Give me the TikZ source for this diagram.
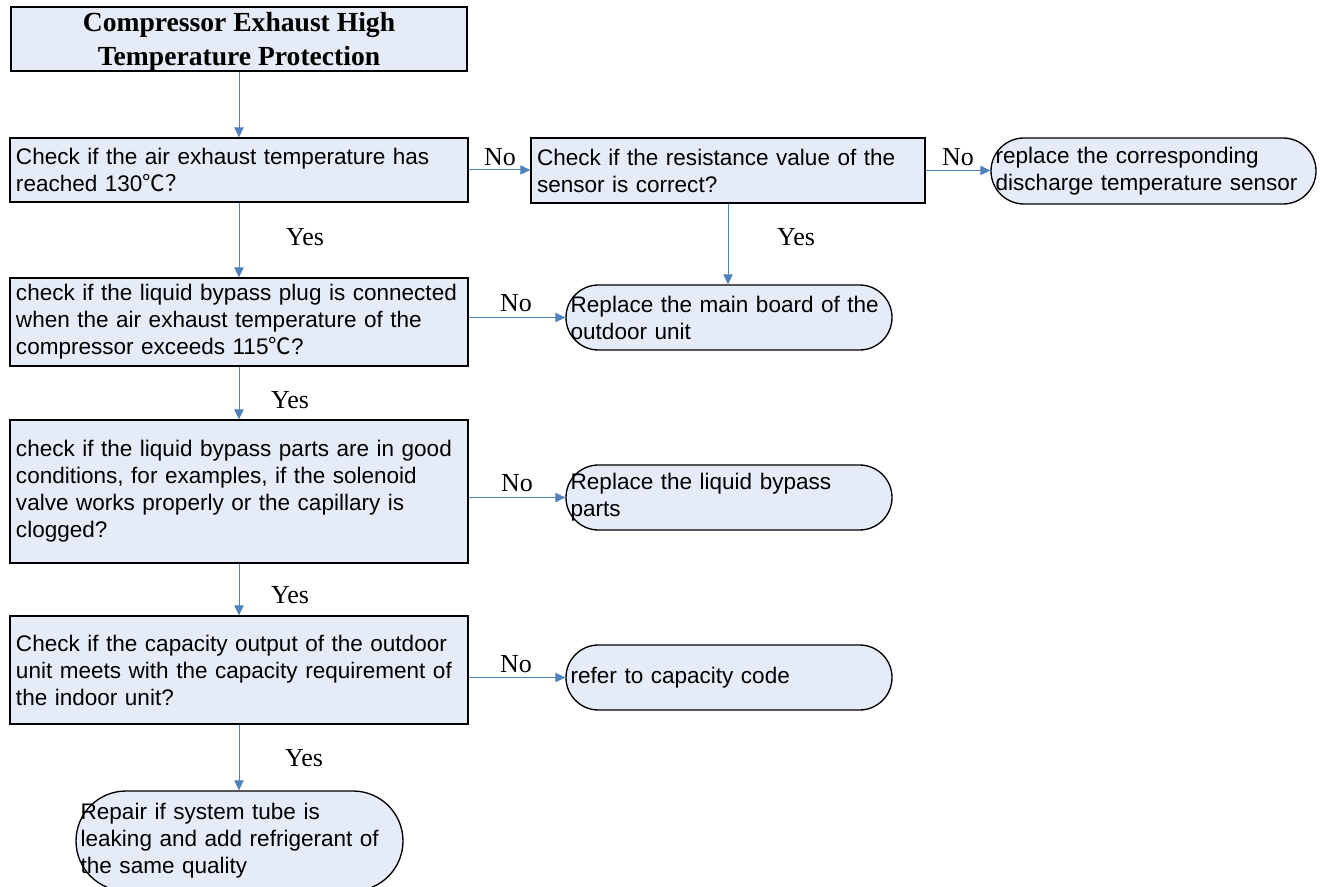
\documentclass[tikz,border=0pt]{standalone}
\usepackage{fontspec}
\setmainfont{Liberation Serif}
\newfontfamily\arialf{Liberation Sans}
\newfontfamily\cjkf{Noto Sans CJK SC}
\usetikzlibrary{arrows.meta}
\definecolor{boxfill}{RGB}{230,236,247}
\definecolor{lineblue}{RGB}{79,129,189}
\hyphenpenalty=10000
\exhyphenpenalty=10000
\begin{document}
\begin{tikzpicture}[x=0.75pt,y=-0.75pt,
  box/.style={draw=black, line width=1pt, fill=boxfill, rectangle, inner xsep=4.5pt, inner ysep=0pt,
    align=left, font=\arialf\fontsize{16.9pt}{20.25pt}\selectfont},
  stadium/.style={box, rounded corners=#1, inner xsep=3.5pt},
  titlebox/.style={draw=black, line width=1pt, fill=boxfill, rectangle, inner sep=0pt, align=center,
    font=\bfseries\fontsize{20.7pt}{25.5pt}\selectfont},
  conn/.style={draw=lineblue, line width=0.75pt, -{Triangle[length=7.5pt,width=7pt]}},
  lbl/.style={inner sep=0pt, font=\fontsize{19.5pt}{22pt}\selectfont}]
\clip (0,0) rectangle (1320,887);
\fill[white] (0,0) rectangle (1320,887);

\node[titlebox, minimum width=342pt, minimum height=48pt] (t) at (239,39)
  {\raisebox{-1.8pt}[\height][\depth]{\parbox{342pt}{\centering Compressor Exhaust High\\Temperature Protection}}};

\node[box, text width=334.5pt, minimum height=48pt] (b1) at (239,170)
  {Check if the air exhaust temperature has\\reached 130{\cjkf ℃？}};

\node[box, text width=286.5pt, minimum height=48.75pt] (b2) at (728,170.5)
  {Check if the resistance value of the\\sensor is correct?};

\node[stadium=24.75pt, text width=236.75pt, minimum height=49.5pt] (r1) at (1153.5,171)
  {replace the corresponding\\discharge temperature sensor};

\node[box, text width=334.5pt, minimum height=66pt] (b3) at (239,322)
  {check if the liquid bypass plug is connected\\when the air exhaust temperature of the\\compressor exceeds 115{\cjkf ℃}?};

\node[stadium=24.375pt, text width=237.5pt, minimum height=48.75pt] (r2) at (729,317.5)
  {Replace the main board of the\\outdoor unit};

\node[box, text width=334.5pt, minimum height=107.25pt] (b4) at (239,491.5)
  {check if the liquid bypass parts are in good\\conditions, for examples, if the solenoid\\valve works properly or the capillary is\\clogged?};

\node[stadium=24.375pt, text width=237.5pt, minimum height=48.75pt] (r3) at (729,497.5)
  {Replace the liquid bypass\\parts};

\node[box, text width=334.5pt, minimum height=81pt] (b5) at (239,670)
  {Check if the capacity output of the outdoor\\unit meets with the capacity requirement of\\the indoor unit?};

\node[stadium=24.375pt, text width=237.5pt, minimum height=48.75pt] (r4) at (729,677.5)
  {refer to capacity code};

\node[stadium=37.5pt, text width=238.25pt, minimum height=75pt] (r5) at (239.5,841)
  {Repair if system tube is\\leaking and add refrigerant of\\the same quality};

\draw[conn] (t.south) -- (t.south |- b1.north);
\draw[conn] (b1.east) -- (b1.east -| b2.west);
\draw[conn] (b2.east) -- (b2.east -| r1.west);
\draw[conn] (b2.south) -- (b2.south |- r2.north);
\draw[conn] (b1.south) -- (b1.south |- b3.north);
\draw[conn] (r2.west -| b3.east) -- (r2.west);
\draw[conn] (b3.south) -- (b3.south |- b4.north);
\draw[conn] (r3.west -| b4.east) -- (r3.west);
\draw[conn] (b4.south) -- (b4.south |- b5.north);
\draw[conn] (r4.west -| b5.east) -- (r4.west);
\draw[conn] (b5.south) -- (b5.south |- r5.north);

\node[lbl] (l1) at (500,157) {No};
\node[lbl] (l2) at (958,157) {No};
\node[lbl] (l3) at (305,237) {Yes};
\node[lbl] (l4) at (796,237) {Yes};
\node[lbl] (l5) at (516,303) {No};
\node[lbl] (l6) at (290,400) {Yes};
\node[lbl] (l7) at (517,483) {No};
\node[lbl] (l8) at (290,595) {Yes};
\node[lbl] (l9) at (516,664) {No};
\node[lbl] (l10) at (304,758) {Yes};
\end{tikzpicture}
\end{document}
